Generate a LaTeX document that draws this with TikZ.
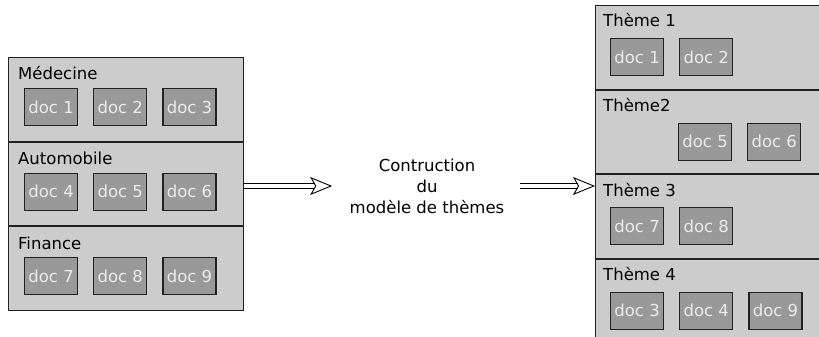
\documentclass[tikz,border=0pt]{standalone}
\usepackage{fontspec}
\setmainfont{DejaVu Sans}
\usetikzlibrary{positioning,arrows.meta}
\definecolor{panelgray}{RGB}{204,204,204}
\definecolor{docgray}{RGB}{153,153,153}
\definecolor{doctext}{RGB}{235,235,235}
\definecolor{edgegray}{RGB}{34,34,34}

\begin{document}
\begin{tikzpicture}[
      x=1pt, y=-1pt,
      font=\fontsize{16.5}{21}\selectfont,
      section/.style={rectangle, draw=edgegray, fill=panelgray, minimum width=235pt, minimum height=83.5pt, line width=1pt, inner sep=0pt},
      doc/.style={rectangle, draw=edgegray, fill=docgray, text=doctext, minimum width=53pt, minimum height=37pt, inner sep=0pt, line width=1.2pt},
      lab/.style={anchor=base west, inner sep=0pt},
      bigarrow/.style={draw=black, double=white, double distance=3.5pt, line width=0.9pt, -{Stealth[open, length=22pt, width=18pt, inset=5pt, line width=0.9pt]}}
    ]
    \useasboundingbox (0,0) rectangle (819,337);
    \clip (0,0) rectangle (819,337);

    % categories
    \node[section, anchor=north west] (med) at (8,57) {};
    \node[section, below=0pt of med] (auto) {};
    \node[section, below=0pt of auto] (fin) {};

    \node[lab] (medlab) at ([shift={(10pt,-23pt)}]med.north west) {Médecine};
    \node[doc, anchor=north west] (d1) at ([shift={(16pt,-31pt)}]med.north west) {doc 1};
    \node[doc, right=15pt of d1] (d2) {doc 2};
    \node[doc, right=15pt of d2] (d3) {doc 3};

    \node[lab] (autolab) at ([shift={(10pt,-23pt)}]auto.north west) {Automobile};
    \node[doc, anchor=north west] (d4) at ([shift={(16pt,-31pt)}]auto.north west) {doc 4};
    \node[doc, right=15pt of d4] (d5) {doc 5};
    \node[doc, right=15pt of d5] (d6) {doc 6};

    \node[lab] (finlab) at ([shift={(10pt,-23pt)}]fin.north west) {Finance};
    \node[doc, anchor=north west] (d7) at ([shift={(16pt,-31pt)}]fin.north west) {doc 7};
    \node[doc, right=15pt of d7] (d8) {doc 8};
    \node[doc, right=15pt of d8] (d9) {doc 9};

    % model
    \node[align=center] (model) at (427,186) {Contruction\\du\\modèle de thèmes};

    % themes
    \node[section, anchor=north west] (t1) at (595,5) {};
    \node[section, below=0pt of t1] (t2) {};
    \node[section, below=0pt of t2] (t3) {};
    \node[section, below=0pt of t3] (t4) {};

    \node[lab] (t1lab) at ([shift={(8pt,-22pt)}]t1.north west) {Thème 1};
    \node[doc, anchor=north west] (t1a) at ([shift={(15pt,-33pt)}]t1.north west) {doc 1};
    \node[doc, right=15pt of t1a] (t1b) {doc 2};

    \node[lab] (t2lab) at ([shift={(8pt,-22pt)}]t2.north west) {Thème2};
    \node[doc, anchor=north west] (t2a) at ([shift={(83pt,-33pt)}]t2.north west) {doc 5};
    \node[doc, right=15pt of t2a] (t2b) {doc 6};

    \node[lab] (t3lab) at ([shift={(8pt,-22pt)}]t3.north west) {Thème 3};
    \node[doc, anchor=north west] (t3a) at ([shift={(15pt,-33pt)}]t3.north west) {doc 7};
    \node[doc, right=15pt of t3a] (t3b) {doc 8};

    \node[lab] (t4lab) at ([shift={(8pt,-22pt)}]t4.north west) {Thème 4};
    \node[doc, anchor=north west] (t4a) at ([shift={(15pt,-33pt)}]t4.north west) {doc 3};
    \node[doc, right=15pt of t4a] (t4b) {doc 4};
    \node[doc, right=15pt of t4b] (t4c) {doc 9};

    \draw[bigarrow, shorten >=14pt] (auto.east |- model.west) -- (model.west);
    \draw[bigarrow, shorten <=12pt] (model.east) -- (model.east -| t3.west);
\end{tikzpicture}
\end{document}
